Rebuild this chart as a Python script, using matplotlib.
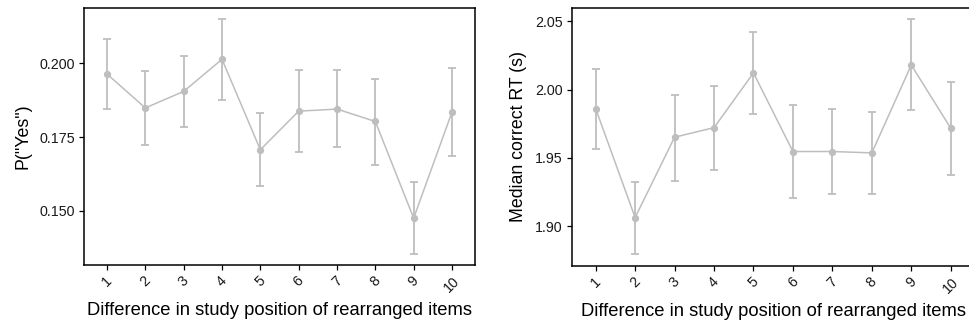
import matplotlib
matplotlib.use("Agg")
import matplotlib.pyplot as plt

plt.rcParams['font.family'] = ['Liberation Sans', 'DejaVu Sans']

positions = [1, 2, 3, 4, 5, 6, 7, 8, 9, 10]
tick_labels = [str(p) for p in positions]

p_yes = [0.1964, 0.1849, 0.1905, 0.2014, 0.1707, 0.1838, 0.1845, 0.1803, 0.1475, 0.1835]
p_yes_hi = [0.2082, 0.1973, 0.2025, 0.2150, 0.1832, 0.1976, 0.1976, 0.1948, 0.1597, 0.1983]
p_yes_lo = [0.1844, 0.1724, 0.1783, 0.1877, 0.1583, 0.1699, 0.1715, 0.1656, 0.1353, 0.1687]

rt = [1.9860, 1.9062, 1.9651, 1.9721, 2.0122, 1.9546, 1.9546, 1.9536, 2.0180, 1.9717]
rt_hi = [2.0154, 1.9326, 1.9961, 2.0029, 2.0422, 1.9888, 1.9858, 1.9832, 2.0515, 2.0056]
rt_lo = [1.9563, 1.8795, 1.9333, 1.9413, 1.9822, 1.9209, 1.9238, 1.9238, 1.9849, 1.9377]

gray = '#BEBEBE'

fig = plt.figure(figsize=(9.69, 3.23), dpi=100)
ax1 = fig.add_axes([84/969, 58/323, (475-84)/969, (265-8)/323])
ax2 = fig.add_axes([572/969, 57/323, (974.4-572)/969, (266-7.7)/323])

def draw(ax, y, lo, hi, ylabel, yticks, yticklabels, ylim):
    err = [[v - l for v, l in zip(y, lo)], [h - v for v, h in zip(y, hi)]]
    ax.errorbar(positions, y, yerr=err, color=gray, ecolor=gray, elinewidth=1.3,
                capsize=3.2, capthick=1.3, lw=1.1, marker='o', ms=4.2, mec=gray, mfc=gray)
    ax.set_xlim(0.4, 10.6)
    ax.set_ylim(*ylim)
    ax.set_xticks(positions)
    ax.set_xticklabels(tick_labels, rotation=45, ha='center', va='top')
    ax.set_yticks(yticks)
    ax.set_yticklabels(yticklabels)
    for s in ax.spines.values():
        s.set_linewidth(1.1)
        s.set_color('black')
    ax.tick_params(axis='both', direction='out', length=3.5, width=0.9, color='black',
                   labelsize=10.3, labelcolor='#1a1a1a', pad=3)
    ax.set_xlabel('Difference in study position of rearranged items', fontsize=13.2, labelpad=5)
    ax.set_ylabel(ylabel, fontsize=12.8, labelpad=6)

draw(ax1, p_yes, p_yes_lo, p_yes_hi, 'P("Yes")', [0.150, 0.175, 0.200],
     ['0.150', '0.175', '0.200'], (0.1316, 0.2188))
draw(ax2, rt, rt_lo, rt_hi, 'Median correct RT (s)', [1.90, 1.95, 2.00, 2.05],
     ['1.90', '1.95', '2.00', '2.05'], (1.8707, 2.0600))

fig.savefig('out.png', dpi=100)
